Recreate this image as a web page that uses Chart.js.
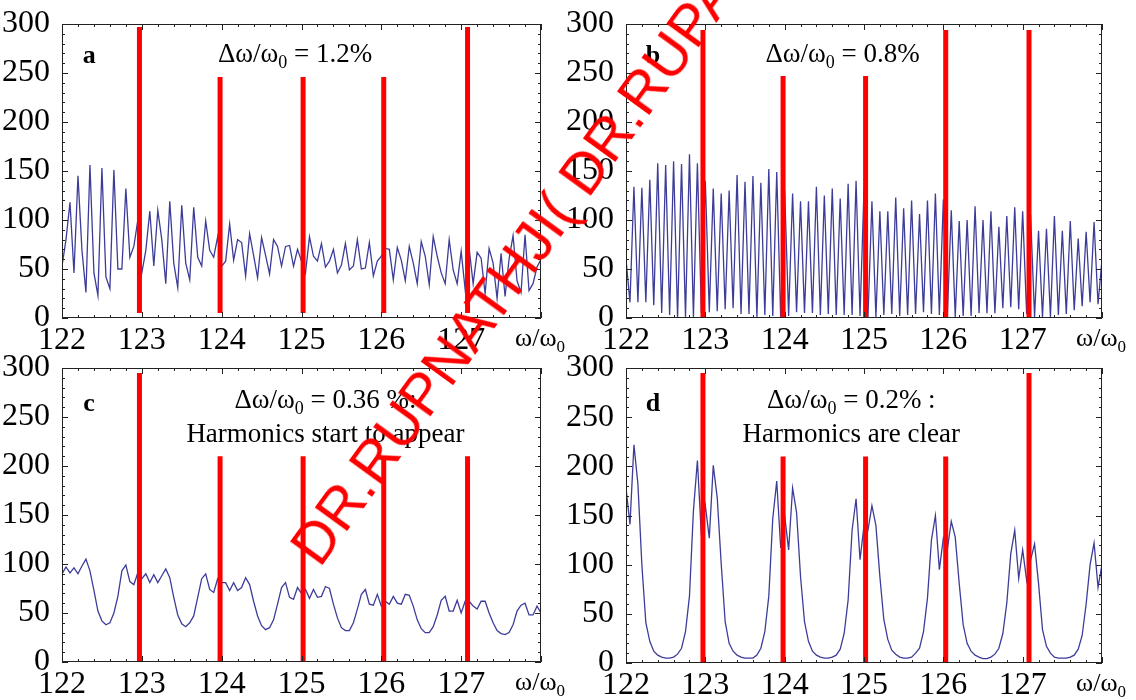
<!DOCTYPE html>
<html>
<head>
<meta charset="utf-8">
<script src="https://cdn.jsdelivr.net/npm/chart.js@4.4.1/dist/chart.umd.min.js"></script>
<style>
  html, body { margin: 0; padding: 0; background: #fff; width: 1136px; height: 700px; overflow: hidden; }
  .panel { position: absolute; }
  #stamp {
    position: absolute; left: 280px; top: 540px;
    font-family: "Liberation Sans", Arial, sans-serif; font-size: 58px; line-height: 58px;
    color: #ff0000; white-space: nowrap;
    transform-origin: 0 0; transform: rotate(-54deg);
    pointer-events: none; z-index: 5;
  }
</style>
</head>
<body>
<div class="panel" style="left:0;top:0"><canvas id="panelA" width="568" height="372"></canvas></div>
<div class="panel" style="left:566px;top:0"><canvas id="panelB" width="570" height="372"></canvas></div>
<div class="panel" style="left:0;top:344px"><canvas id="panelC" width="568" height="356"></canvas></div>
<div class="panel" style="left:566px;top:344px"><canvas id="panelD" width="570" height="356"></canvas></div>
<div id="stamp">DR.RUPNATHJI( DR.RUPAK NATH )</div>

<script>
// sampling grid of the spectra (omega / omega0)
const omegaStart = 122;
const omegaStep = 0.05;

// spectrum values, one per grid point (121 points, 122 .. 128)
const spectrumA = [
  53, 80, 118, 46, 145, 69, 26, 156, 46, 23,
  153, 42, 30, 151, 50, 50, 132, 62, 73, 100,
  46, 69, 109, 53, 110, 80, 35, 119, 56, 31,
  115, 56, 39, 113, 62, 53, 99, 69, 62, 83,
  53, 58, 96, 59, 80, 77, 43, 86, 64, 41,
  82, 64, 45, 80, 73, 53, 73, 74, 53, 70,
  58, 46, 83, 63, 58, 76, 52, 58, 70, 46,
  54, 76, 49, 53, 80, 50, 51, 77, 43, 58,
  63, 71, 70, 39, 72, 59, 38, 73, 56, 35,
  78, 63, 34, 83, 63, 46, 35, 80, 49, 35,
  68, 29, 71, 35, 67, 61, 25, 71, 56, 20,
  66, 22, 60, 84, 38, 26, 85, 28, 35, 52, 60
];
const spectrumB = [
  60, 16, 134, 16, 133, 16, 141, 13, 158, 5,
  156, 3, 160, 0, 157, 1, 167, 1, 158, 5,
  140, 6, 132, 7, 127, 9, 130, 10, 146, 4,
  139, 4, 145, 1, 138, 3, 152, 2, 149, 0,
  130, 2, 127, 6, 119, 5, 119, 5, 134, 3,
  125, 4, 132, 3, 122, 3, 137, 3, 140, 2,
  131, 1, 119, 1, 109, 3, 109, 4, 123, 2,
  112, 3, 120, 4, 106, 6, 120, 4, 127, 3,
  121, 1, 110, 1, 99, 2, 100, 2, 114, 5,
  100, 5, 109, 5, 93, 10, 104, 11, 113, 9,
  109, 4, 105, 1, 89, 1, 91, 1, 104, 3,
  89, 4, 99, 8, 81, 12, 88, 16, 98, 14, 60
];
const spectrumC = [
  90, 97, 91, 96, 90, 98, 105, 93, 73, 52,
  42, 38, 40, 50, 67, 93, 99, 82, 79, 91,
  85, 90, 81, 89, 81, 88, 95, 86, 66, 48,
  39, 36, 40, 47, 66, 85, 90, 74, 71, 85,
  81, 81, 73, 81, 73, 76, 86, 79, 62, 47,
  37, 33, 35, 43, 59, 76, 81, 66, 64, 76,
  70, 74, 65, 74, 66, 67, 77, 75, 59, 45,
  35, 32, 32, 40, 54, 69, 74, 59, 58, 69,
  57, 62, 59, 67, 60, 59, 69, 68, 57, 43,
  34, 30, 30, 36, 48, 63, 67, 52, 52, 63,
  50, 62, 62, 57, 54, 62, 62, 50, 40, 32,
  29, 28, 30, 38, 52, 58, 60, 48, 48, 57, 50
];
const spectrumD = [
  178, 141, 222, 182, 100, 41, 22, 12, 8, 6,
  5, 5, 6, 9, 15, 32, 68, 155, 206, 130,
  160, 127, 201, 168, 101, 42, 20, 12, 8, 6,
  5, 5, 5, 8, 15, 32, 68, 147, 185, 117,
  150, 115, 178, 153, 88, 42, 22, 12, 8, 6,
  5, 5, 6, 8, 14, 30, 64, 135, 167, 105,
  140, 135, 160, 140, 88, 44, 24, 13, 9, 6,
  5, 5, 6, 10, 15, 32, 66, 125, 150, 95,
  127, 115, 144, 128, 81, 39, 20, 12, 8, 6,
  4.5, 4.5, 6, 9, 15, 30, 61, 111, 135, 86,
  115, 84, 105, 121, 81, 34, 17, 10, 6, 5,
  5, 5, 6, 8, 14, 28, 60, 100, 122, 77, 100
];

// red markers at the harmonics
const harmonicPositions = [122.97, 123.98, 125.02, 126.03, 127.08];
const harmonicTopsA = [297, 246, 246, 246, 297];
const harmonicTopsB = [294, 247, 247, 294, 294];
const harmonicTopsC = [295, 210, 210, 210, 210];
const harmonicTopsD = [295, 210, 210, 210, 295];
const harmonicBaseA = 5;
const harmonicBaseB = 0;
const harmonicBaseC = 0;
const harmonicBaseD = 0;

// ticks
const xTickValues = [122, 123, 124, 125, 126, 127];
const yTickValues = [0, 50, 100, 150, 200, 250, 300];

const serif = '"Liberation Serif", "Times New Roman", serif';
const blue = '#3d3d99';

function drawParts(ctx, parts, x, baseY, size, align) {
  const mainFont = `${size}px ${serif}`;
  const subFont = `${Math.round(size * 0.66)}px ${serif}`;
  const widths = parts.map((p) => {
    ctx.font = p.sub ? subFont : mainFont;
    return ctx.measureText(p.text).width;
  });
  const total = widths.reduce((a, b) => a + b, 0);
  let cx = align === 'right' ? x - total : x - total / 2;
  ctx.textAlign = 'left';
  ctx.textBaseline = 'alphabetic';
  parts.forEach((p, i) => {
    ctx.font = p.sub ? subFont : mainFont;
    ctx.fillText(p.text, cx, p.sub ? baseY + size * 0.22 : baseY);
    cx += widths[i];
  });
}

const framePlugin = {
  id: 'frame',
  afterDatasetsDraw(chart) {
    const { ctx, chartArea: a, scales } = chart;
    const x = scales.x, y = scales.y;
    ctx.save();
    ctx.strokeStyle = '#222';
    ctx.lineWidth = 1;
    ctx.strokeRect(a.left + 0.5, a.top + 0.5, a.right - a.left - 1, a.bottom - a.top - 1);
    ctx.beginPath();
    for (let v = 122; v <= 128.001; v += 0.2) {
      const px = Math.round(x.getPixelForValue(v)) + 0.5;
      const major = Math.abs(v - Math.round(v)) < 0.01;
      const len = major ? 6 : 3;
      ctx.moveTo(px, a.bottom); ctx.lineTo(px, a.bottom - len);
      ctx.moveTo(px, a.top); ctx.lineTo(px, a.top + len);
    }
    for (let v = 0; v <= 300; v += 10) {
      const py = Math.round(y.getPixelForValue(v)) + 0.5;
      const len = v % 50 === 0 ? 6 : 3;
      ctx.moveTo(a.left, py); ctx.lineTo(a.left + len, py);
      ctx.moveTo(a.right, py); ctx.lineTo(a.right - len, py);
    }
    ctx.stroke();
    ctx.restore();
  },
  afterDraw(chart) {
    const notes = chart.options.plugins.frame;
    const { ctx, chartArea: a, scales } = chart;
    ctx.save();
    ctx.fillStyle = '#000';
    ctx.font = `bold 26px ${serif}`;
    ctx.textAlign = 'center';
    ctx.textBaseline = 'alphabetic';
    ctx.fillText(notes.letter, scales.x.getPixelForValue(122.34), scales.y.getPixelForValue(notes.letterY));
    notes.lines.forEach((ln) => {
      drawParts(ctx, ln.parts, scales.x.getPixelForValue(ln.x), scales.y.getPixelForValue(ln.y), 27, 'center');
    });
    drawParts(ctx, [{ text: 'ω/ω' }, { text: '0', sub: true }], a.right + 24, a.bottom + 28, 26, 'right');
    ctx.restore();
  }
};

function buildPanel(id, spectrum, tops, base, notes, geom) {
  const datasets = harmonicPositions.map((pos, i) => ({
    data: [{ x: pos, y: base }, { x: pos, y: tops[i] }],
    borderColor: '#ff0000',
    borderWidth: 5,
    borderCapStyle: 'butt',
    pointRadius: 0,
    order: 1
  }));
  datasets.push({
    data: spectrum.map((v, i) => ({ x: omegaStart + i * omegaStep, y: v })),
    borderColor: blue,
    borderWidth: 1.3,
    pointRadius: 0,
    tension: 0,
    order: 2
  });

  const config = {
    type: 'line',
    data: { datasets: datasets },
    options: {
      responsive: false,
      animation: false,
      events: [],
      layout: { padding: { left: 0, top: 24, right: geom.right, bottom: 0 } },
      plugins: { legend: { display: false }, tooltip: { enabled: false }, frame: notes },
      scales: {
        x: {
          type: 'linear', min: 122, max: 128,
          grid: { display: false }, border: { display: false },
          afterBuildTicks: (s) => { s.ticks = xTickValues.map((v) => ({ value: v })); },
          afterFit: (s) => { s.height = geom.xHeight; },
          ticks: { color: '#000', font: { family: serif, size: 32, lineHeight: 0.85 }, padding: 1, maxRotation: 0, autoSkip: false }
        },
        y: {
          min: 0, max: 300,
          grid: { display: false }, border: { display: false },
          afterBuildTicks: (s) => { s.ticks = yTickValues.map((v) => ({ value: v })); },
          afterFit: (s) => { s.width = geom.yWidth; },
          ticks: { color: '#000', font: { family: serif, size: 32 }, padding: 4 }
        }
      }
    },
    plugins: [framePlugin]
  };
  return new Chart(document.getElementById(id).getContext('2d'), config);
}

const delta = (rest) => [{ text: 'Δω/ω' }, { text: '0', sub: true }, { text: rest }];

buildPanel('panelA', spectrumA, harmonicTopsA, harmonicBaseA,
  { letter: 'a', letterY: 260, lines: [{ parts: delta(' = 1.2%'), x: 124.92, y: 261 }] },
  { right: 27, xHeight: 54, yWidth: 62 });

buildPanel('panelB', spectrumB, harmonicTopsB, harmonicBaseB,
  { letter: 'b', letterY: 260, lines: [{ parts: delta(' = 0.8%'), x: 124.73, y: 261 }] },
  { right: 34, xHeight: 54, yWidth: 60 });

buildPanel('panelC', spectrumC, harmonicTopsC, harmonicBaseC,
  { letter: 'c', letterY: 256, lines: [
    { parts: delta(' = 0.36 %:'), x: 125.3, y: 259 },
    { parts: [{ text: 'Harmonics start to appear' }], x: 125.3, y: 225 }
  ] },
  { right: 27, xHeight: 38, yWidth: 62 });

buildPanel('panelD', spectrumD, harmonicTopsD, harmonicBaseD,
  { letter: 'd', letterY: 256, lines: [
    { parts: delta(' = 0.2% :'), x: 124.84, y: 259 },
    { parts: [{ text: 'Harmonics are clear' }], x: 124.84, y: 225 }
  ] },
  { right: 34, xHeight: 37, yWidth: 60 });
</script>
</body>
</html>
